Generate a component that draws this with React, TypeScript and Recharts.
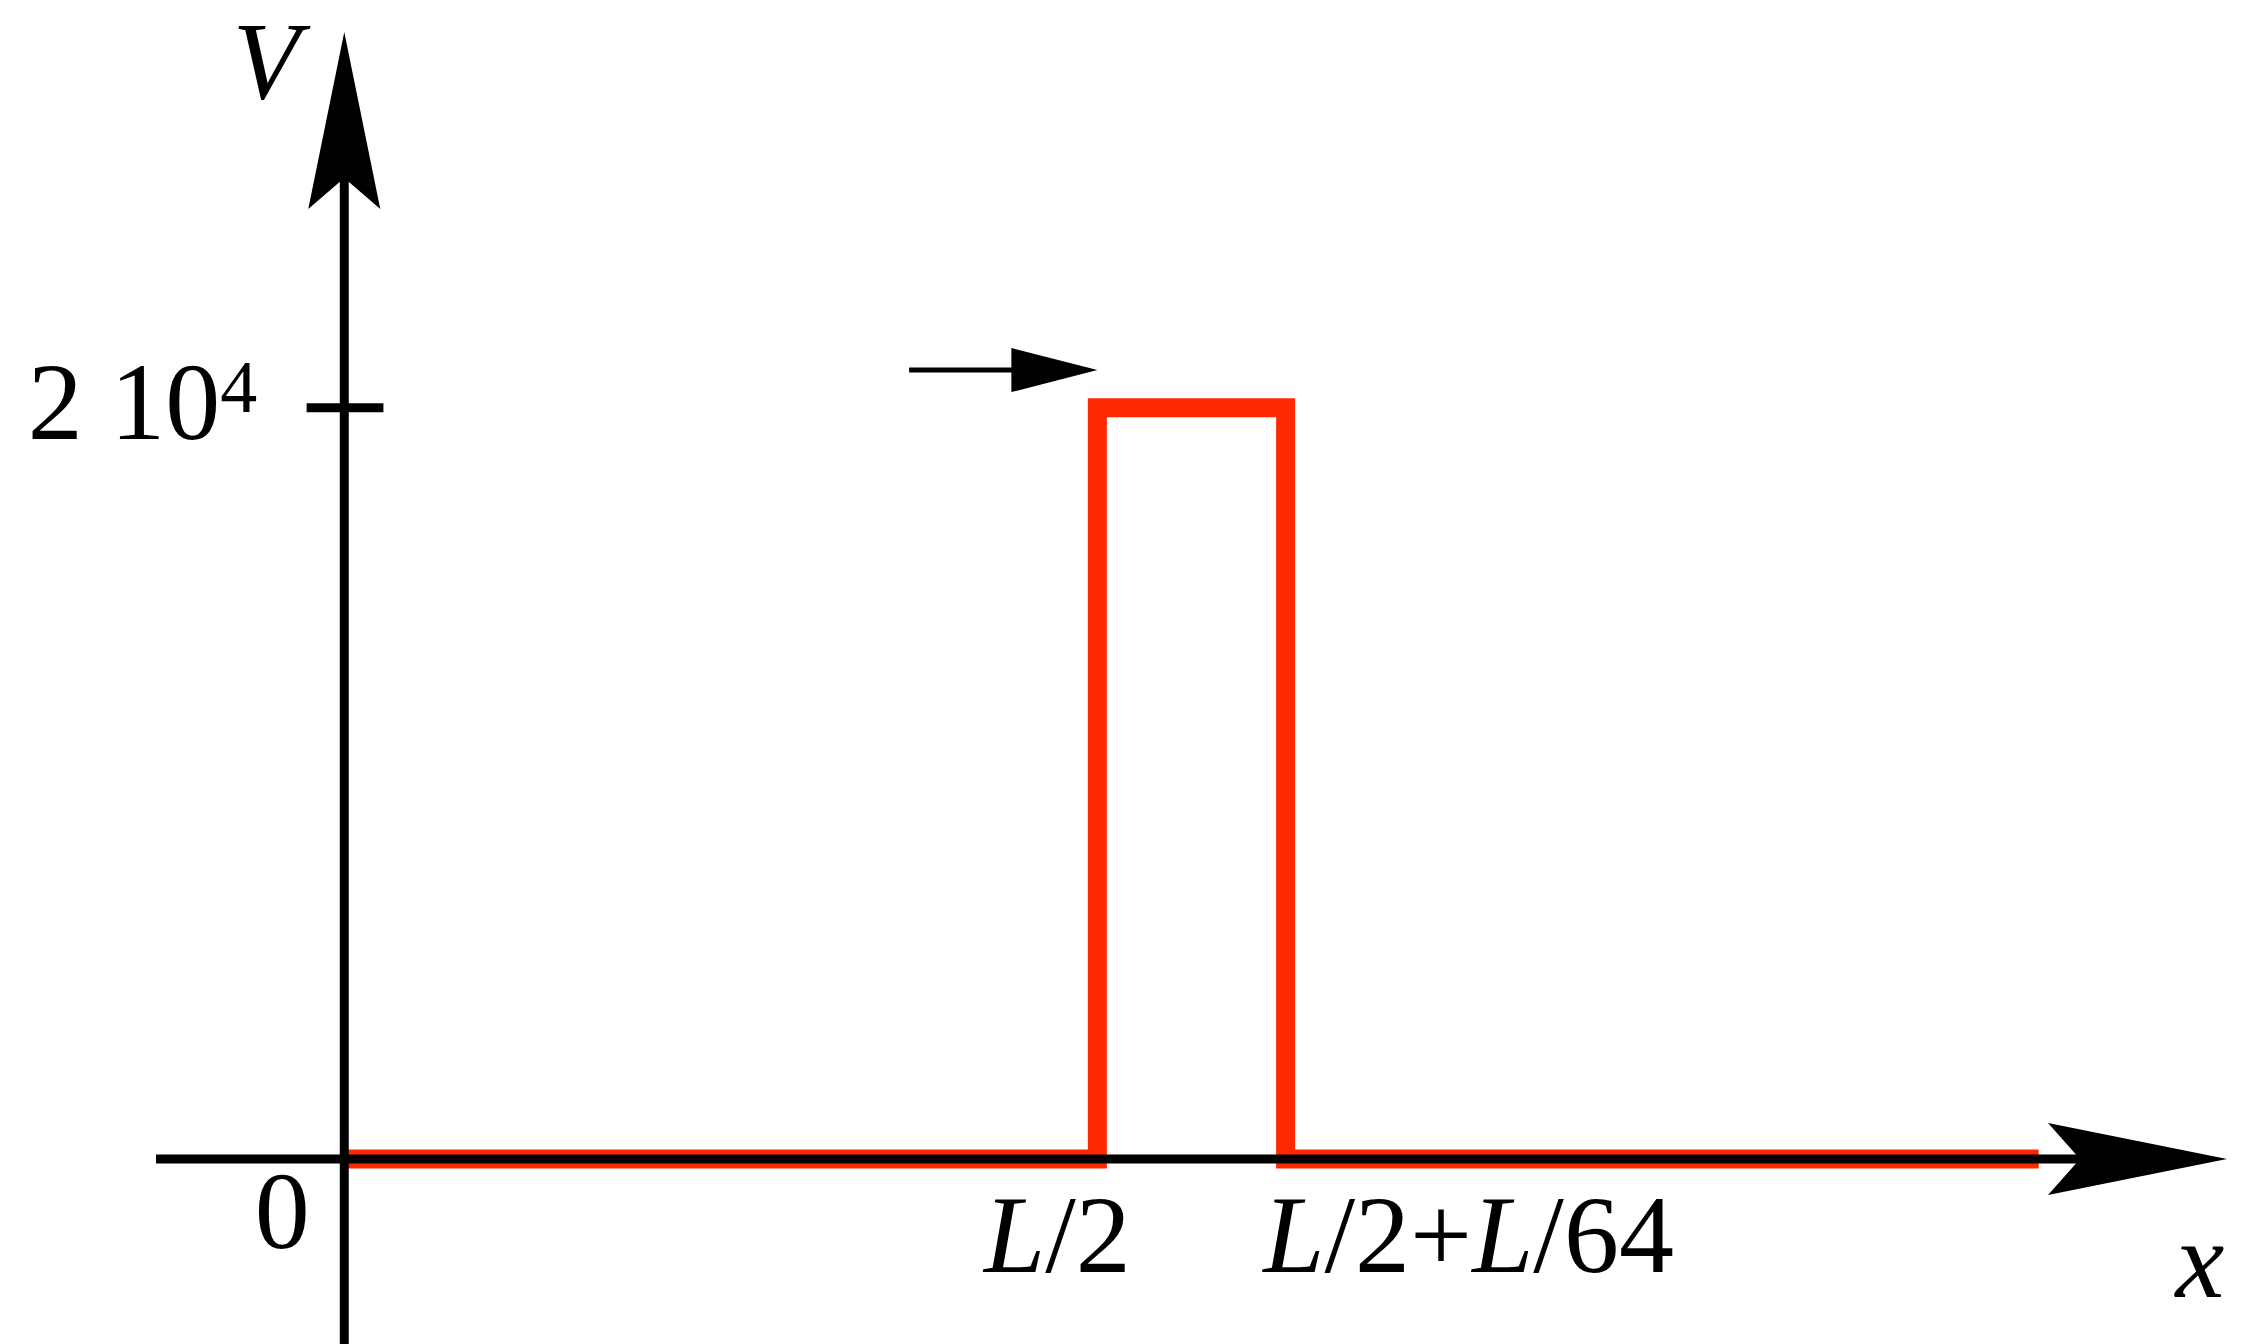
import { LineChart, Line, XAxis, YAxis, ReferenceLine, ReferenceDot } from 'recharts'

// square pulse, schematic x units (L = 1)
const pulseX = [0, 0.5, 0.5, 0.625, 0.625, 1.125]
const pulseV = [0, 0, 20000, 20000, 0, 0]

const xTicks = [0.5, 0.625]
const xTickLabels = ['L/2', 'L/2+L/64']
const vTick = 20000

const xDomain: [number, number] = [-0.125, 1.25]
const vDomain: [number, number] = [0, 30000]

// little arrow showing direction of travel
const moveArrowFrom = 0.375
const moveArrowTo = 0.5
const moveArrowV = 21000

const data = pulseX.map((x, i) => ({ x, v: pulseV[i] }))

const FONT = 'Liberation Serif, Times New Roman, Times, serif'
const RED = '#ff2800'

function mathText(s: string) {
    return s.split('').map((ch, i) =>
        ch === 'L' || ch === 'x' || ch === 'V'
            ? <tspan key={i} fontStyle="italic">{ch}</tspan>
            : <tspan key={i}>{ch}</tspan>
    )
}

const tickShift = [-40, 183]

function XTick(props: any) {
    const { x, y, index } = props
    return (
        <text x={x + (tickShift[index] ?? 0)} y={y + 113} textAnchor="middle" fontFamily={FONT} fontSize={110} fill="#000">
            {mathText(xTickLabels[index])}
        </text>
    )
}

export default function App(): JSX.Element {
    return (
        <div style={{ position: 'absolute', left: 0, top: 0, width: 2241, height: 1344, background: '#fff' }}>
            <LineChart width={2241} height={1344} data={data} margin={{ top: 32, right: 14, bottom: 155, left: 156 }}>
                <XAxis
                    dataKey="x"
                    type="number"
                    domain={xDomain}
                    ticks={xTicks}
                    interval={0}
                    axisLine={false}
                    tickLine={false}
                    tickSize={0}
                    tickMargin={0}
                    tick={<XTick />}
                />
                <YAxis hide type="number" domain={vDomain} />
                <Line
                    dataKey="v"
                    type="linear"
                    stroke={RED}
                    strokeWidth={19}
                    strokeLinejoin="miter"
                    strokeLinecap="butt"
                    dot={false}
                    activeDot={false}
                    isAnimationActive={false}
                />

                {/* axes */}
                <ReferenceLine segment={[{ x: xDomain[0], y: 0 }, { x: 1.17, y: 0 }]} stroke="#000" strokeWidth={9} ifOverflow="visible" zIndex={500} />
                <ReferenceLine segment={[{ x: 0, y: -5200 }, { x: 0, y: 26500 }]} stroke="#000" strokeWidth={9} ifOverflow="visible" zIndex={500} />
                <ReferenceLine segment={[{ x: -0.025, y: vTick }, { x: 0.026, y: vTick }]} stroke="#000" strokeWidth={9} ifOverflow="visible" zIndex={500} />
                <ReferenceDot
                    x={xDomain[1]}
                    y={0}
                    ifOverflow="visible"
                    zIndex={600}
                    shape={(p: any) => (
                        <g>
                            <polygon points={`${p.cx},${p.cy} ${p.cx - 179},${p.cy - 36} ${p.cx - 147},${p.cy} ${p.cx - 179},${p.cy + 36}`} fill="#000" />
                            <text x={p.cx - 27} y={p.cy + 138} textAnchor="middle" fontFamily={FONT} fontSize={110}>{mathText('x')}</text>
                        </g>
                    )}
                />
                <ReferenceDot
                    x={0}
                    y={vDomain[1]}
                    ifOverflow="visible"
                    zIndex={600}
                    shape={(p: any) => (
                        <g>
                            <polygon points={`${p.cx},${p.cy} ${p.cx - 36},${p.cy + 177} ${p.cx},${p.cy + 146} ${p.cx + 36},${p.cy + 177}`} fill="#000" />
                            <text x={p.cx - 78} y={p.cy + 66} textAnchor="middle" fontFamily={FONT} fontSize={110}>{mathText('V')}</text>
                        </g>
                    )}
                />
                <ReferenceDot
                    x={0}
                    y={vTick}
                    ifOverflow="visible"
                    zIndex={600}
                    shape={(p: any) => (
                        <text x={p.cx - 87} y={p.cy + 31} textAnchor="end" fontFamily={FONT} fontSize={110}>
                            2 10<tspan dy={-27} fontSize={74}>4</tspan>
                        </text>
                    )}
                />
                <ReferenceDot
                    x={0}
                    y={0}
                    ifOverflow="visible"
                    zIndex={600}
                    shape={(p: any) => (
                        <text x={p.cx - 62} y={p.cy + 89} textAnchor="middle" fontFamily={FONT} fontSize={110}>0</text>
                    )}
                />

                {/* direction arrow */}
                <ReferenceLine segment={[{ x: moveArrowFrom, y: moveArrowV }, { x: 0.45, y: moveArrowV }]} stroke="#000" strokeWidth={5} ifOverflow="visible" zIndex={500} />
                <ReferenceDot
                    x={moveArrowTo}
                    y={moveArrowV}
                    ifOverflow="visible"
                    zIndex={600}
                    shape={(p: any) => (
                        <polygon points={`${p.cx},${p.cy} ${p.cx - 86},${p.cy - 22} ${p.cx - 86},${p.cy + 22}`} fill="#000" />
                    )}
                />
            </LineChart>
        </div>
    )
}
